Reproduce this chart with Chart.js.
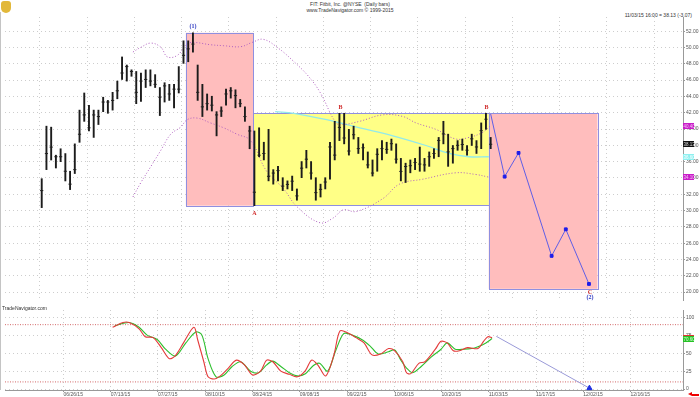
<!DOCTYPE html>
<html><head><meta charset="utf-8">
<script src="https://cdn.jsdelivr.net/npm/chart.js@4.4.0/dist/chart.umd.min.js"></script>
<style>
html,body{margin:0;padding:0;background:#fff;width:700px;height:397px;overflow:hidden;font-family:"Liberation Sans",Arial,sans-serif;}
#c1{position:absolute;left:0;top:12px;}
#c2{position:absolute;left:0;top:305px;}
.t{position:absolute;font-size:5px;line-height:6px;color:#333;white-space:nowrap}
#edge{position:absolute;left:0;top:12px;width:1px;height:378px;background:#c4c4c4}
#logo{position:absolute;left:1px;top:1px;width:10px;height:12px;background:#e2b83a;border-radius:3px 3px 5px 5px}
#arr{position:absolute;left:688px;top:392px;width:0;height:0;border-right:4px solid #e00;border-top:2.5px solid transparent;border-bottom:2.5px solid transparent}
#arr2{position:absolute;left:692px;top:393.5px;width:7px;height:2px;background:#e00}
</style></head><body>
<div id="logo"></div>
<div class="t" style="left:0;width:700px;text-align:center;top:1px">FIT: Fitbit, Inc. @NYSE &nbsp;(Daily bars)</div>
<div class="t" style="left:0;width:700px;text-align:center;top:7px">www.TradeNavigator.com © 1999-2015</div>
<div class="t" style="right:8px;top:12px">11/03/15 16:00 = 38.13 (-3.07)</div>
<div id="edge"></div>
<canvas id="c1" width="700" height="293"></canvas>
<canvas id="c2" width="700" height="92"></canvas>
<div class="t" style="left:2px;top:305px">TradeNavigator.com</div>
<div id="arr"></div><div id="arr2"></div>
<script>
// ---------- DATA ----------
const dateTickLabels = ['06/26/15','07/13/15','07/27/15','08/10/15','08/24/15','09/08/15','09/22/15','10/06/15','10/20/15','11/03/15','11/17/15','12/02/15','12/16/15'];
const dateTickIdx = [4.6,14.6,24.6,34.6,44.6,54.6,64.6,74.6,84.6,94.6,104.6,114.6,124.6];
const priceTicks = [20,22,24,26,28,30,32,34,36,38,40,42,44,46,48,50,52];
const oscTicks = [0,25,50,75,100];

const highs = [33.91,40.35,40.23,36.79,37.58,36.99,34.82,38.18,42.32,44.42,
42.92,42.32,42.32,43.90,43.51,44.50,45.88,48.84,47.85,47.26,
47.06,46.87,47.26,47.26,46.67,45.09,45.68,45.48,45.48,47.66,
50.82,50.82,51.80,47.85,45.48,44.30,44.02,42.13,42.72,44.89,
45.09,44.81,43.63,42.72,40.35,39.76,40.15,38.38,39.96,35.02,
35.42,34.03,33.64,34.23,32.65,36.01,37.39,36.01,34.03,33.24,
34.03,38.38,40.95,41.93,41.93,39.96,40.35,38.97,38.18,37.19,
36.21,37.59,38.58,38.38,38.77,38.18,36.40,35.81,36.21,36.40,
37.79,36.40,37.19,37.59,38.97,40.95,39.37,37.98,38.58,38.77,
37.98,39.37,38.58,40.75,41.93,38.97];
const lows = [30.36,35.02,36.20,35.22,36.00,33.63,32.57,34.54,38.37,40.94,
39.76,38.97,40.55,42.13,41.93,42.32,43.71,46.08,45.88,46.47,
43.11,43.39,45.09,45.29,45.09,41.65,43.31,43.51,42.60,44.42,
48.05,48.25,49.43,43.51,41.53,42.32,42.21,39.16,41.53,42.92,
43.79,42.60,42.72,40.94,37.58,30.60,36.60,36.21,33.64,33.24,
33.64,32.45,32.65,32.45,31.27,34.03,35.22,33.84,31.27,31.66,
32.65,33.84,36.21,38.58,38.18,36.80,38.77,37.00,36.21,35.22,
34.23,34.82,36.21,37.00,37.39,35.81,33.64,33.44,34.63,35.02,
34.82,34.82,35.42,36.40,36.60,38.18,35.42,35.81,37.39,37.39,
36.80,37.98,37.00,37.59,39.96,37.59];
const closes = [32.45,36.99,37.78,36.60,36.60,34.82,33.24,35.02,39.36,41.73,
40.15,41.73,41.53,43.31,43.31,43.51,44.69,46.87,47.66,47.06,
44.50,45.88,46.08,45.88,45.48,43.90,45.29,44.30,44.89,44.89,
49.04,49.83,50.42,44.50,42.72,43.11,42.92,41.73,42.21,44.30,
44.69,44.10,43.11,41.53,39.76,32.25,36.79,37.00,34.20,34.60,
34.90,33.00,33.20,33.60,31.80,35.20,36.30,34.60,32.20,32.60,
33.50,37.80,36.80,40.20,38.90,37.30,39.30,37.60,37.70,35.60,
34.60,36.90,37.60,37.50,38.20,36.30,34.80,35.40,35.50,35.90,
35.70,35.60,36.60,37.00,38.60,39.40,37.20,37.60,38.00,38.10,
37.40,38.80,37.80,39.80,41.20,38.13];

const upperBand = [[19.3,49.44],[21.0,50.03],[23.1,50.54],[25.2,50.03],[26.6,48.85],[28.7,49.04],[30.7,50.42],[32.2,50.62],[35.7,50.34],[38.5,50.22],[42.1,50.10],[44.5,50.62],[46.9,51.00],[50.1,49.90],[53.3,48.30],[56.4,46.50],[58.9,44.50],[62.3,40.75],[63.8,40.55],[67.3,40.95],[72.2,41.74],[76.4,41.54],[79.2,40.75],[83.4,39.96],[87.6,38.78],[90.4,38.97],[93.2,39.56],[95.0,40.40]];
const lowerBand = [[19.3,31.67],[21.0,33.45],[23.1,35.41],[25.2,37.39],[27.3,39.37],[29.4,40.23],[30.8,41.15],[32.9,41.34],[35.7,40.75],[38.5,40.15],[41.3,39.37],[44.2,38.58],[47.6,34.82],[51.2,32.65],[54.0,30.48],[58.9,28.50],[61.7,29.10],[63.8,30.08],[66.6,29.89],[72.2,31.47],[75.7,33.24],[80.6,33.84],[87.6,34.63],[91.8,34.43],[94.6,34.10]];
const longMA = [[49.4,42.13],[53.3,41.93],[60.3,41.15],[67.3,40.15],[74.3,39.17],[81.3,37.98],[86.2,37.00],[90.4,36.60],[94.6,36.60]];

const projX = [95.0,97.96,100.9,107.9,110.9,115.8];
const projY = [41.85,34.16,37.07,24.44,27.70,21.00];

// boxes: [left idx, right idx, top price, bottom price]
const boxLeft = [30.5,44.75,94.6];
const boxRight = [44.75,94.6,117.6];
const boxTop = [51.80,41.93,41.93];
const boxBottom = [30.60,30.60,20.40];

const markText = ['(1)','A','B','B','C','(2)'];
const markX = [32,45,63.2,94.1,116,116];
const markY = [52.55,29.65,42.6,42.6,20.0,19.35];

const fastK = [[15.0,86.4],[17.2,93.0],[18.5,93.0],[20.6,84.2],[21.9,73.2],[23.6,71.9],[25.3,57.9],[27.0,42.5],[28.3,46.9],[30.0,64.5],[32.2,86.4],[33.0,68.9],[34.3,38.2],[35.2,17.1],[36.5,14.0],[37.8,18.4],[39.5,29.4],[41.2,40.4],[42.9,33.8],[44.6,19.7],[46.3,25.0],[47.6,40.4],[48.9,38.2],[50.6,25.0],[52.4,20.6],[54.1,17.1],[55.8,25.9],[57.1,40.4],[58.4,33.8],[60.1,18.4],[61.8,46.9],[63.1,81.1],[64.8,78.5],[66.5,71.9],[68.2,64.5],[69.9,47.8],[71.7,49.1],[73.4,56.6],[74.7,53.5],[76.4,38.2],[77.2,22.8],[78.1,21.5],[79.8,36.0],[81.1,38.2],[83.3,55.7],[84.5,66.7],[85.8,64.5],[87.1,53.5],[88.4,53.5],[90.1,57.9],[92.3,56.6],[93.5,66.7],[94.4,73.2],[95.3,71.9]];
const slowD = [[15.45,88.6],[18.5,93.0],[20.6,86.4],[22.3,75.4],[24.5,68.9],[26.2,55.7],[28.3,46.1],[30.5,64.5],[32.6,79.8],[33.9,75.4],[35.2,42.5],[36.9,17.1],[38.6,19.7],[40.3,31.6],[42.1,38.2],[44.2,25.0],[45.9,22.8],[47.6,33.8],[48.9,39.0],[50.6,31.6],[52.4,22.8],[54.1,18.4],[55.8,21.5],[57.5,32.9],[58.8,36.0],[60.5,25.0],[62.2,53.5],[63.9,77.6],[65.7,75.4],[67.8,68.9],[69.5,60.1],[71.2,49.1],[73.4,52.2],[74.7,54.8],[76.0,40.4],[77.2,29.4],[78.5,22.8],[80.3,31.6],[82.4,44.7],[84.5,55.7],[85.8,64.5],[87.5,55.7],[89.3,55.7],[91.0,56.6],[92.3,59.2],[94.0,64.5],[95.3,70.6]];
const oscProjX = [96.2,115.9];
const oscProjY = [73.7,1.3];
const oscLevels = [90,10];

// ---------- CHART SETUP ----------
const X_MIN = -7.77, X_MAX = 135.7;
const FONT = 'Liberation Sans';
const pts = a => a.map(p => ({x:p[0], y:p[1]}));
const xy = (xs, ys) => xs.map((v,i) => ({x:v, y:ys[i]}));

function tag(ctx, x, y, bg, fg, txt){
  ctx.fillStyle = bg; ctx.fillRect(x, Math.round(y)-3, 11, 6);
  ctx.fillStyle = fg; ctx.font = '4.5px '+FONT; ctx.textAlign='left'; ctx.textBaseline='middle';
  ctx.fillText(txt, x+0.6, Math.round(y)+0.3);
}

const boxFills = ['#ffbdbd','#ffff86','#ffbdbd'];
const annot = {
  id:'annot',
  beforeDatasetsDraw(chart){
    const {ctx, scales:{x, y}} = chart;
    ctx.save();
    for (let i=0;i<boxLeft.length;i++){
      const l = x.getPixelForValue(boxLeft[i]), r = x.getPixelForValue(boxRight[i]);
      const t = y.getPixelForValue(boxTop[i]), b = y.getPixelForValue(boxBottom[i]);
      ctx.fillStyle = boxFills[i];
      ctx.fillRect(l, t, r-l, b-t);
    }
    ctx.strokeStyle = '#8f8fe0'; ctx.lineWidth = 1;
    for (let i=0;i<boxLeft.length;i++){
      const l = x.getPixelForValue(boxLeft[i]), r = x.getPixelForValue(boxRight[i]);
      const t = y.getPixelForValue(boxTop[i]), b = y.getPixelForValue(boxBottom[i]);
      ctx.strokeRect(Math.round(l)+0.5, Math.round(t)+0.5, Math.round(r-l), Math.round(b-t));
    }
    ctx.restore();
  },
  afterDatasetsDraw(chart){
    const {ctx, scales:{x, y}} = chart;
    ctx.save();
    ctx.font = 'bold 6px "Liberation Serif"'; ctx.textAlign='center'; ctx.textBaseline='middle';
    markText.forEach((t,i)=>{
      ctx.fillStyle = t.startsWith('(') ? '#2a35c0' : '#d02a2a';
      ctx.fillText(t, x.getPixelForValue(markX[i]), y.getPixelForValue(markY[i]));
    });
    ctx.restore();
  },
  afterDraw(chart){
    const {ctx, scales:{y}, chartArea} = chart;
    const xr = chartArea.right;
    ctx.save();
    const up = upperBand[upperBand.length-1][1], lo = lowerBand[lowerBand.length-1][1], ma = longMA[longMA.length-1][1], cl = closes[closes.length-1];
    tag(ctx, xr, y.getPixelForValue(up), '#c81ec8', '#f4c0f4', up.toFixed(2));
    tag(ctx, xr, y.getPixelForValue(cl), '#111', '#ddd', cl.toFixed(2));
    tag(ctx, xr, y.getPixelForValue(ma), '#8ff0f0', '#ffffff', ma.toFixed(2));
    tag(ctx, xr, y.getPixelForValue(lo), '#c81ec8', '#f4c0f4', lo.toFixed(2));
    ctx.restore();
  }
};

const gridCol = '#cdcdcd';
new Chart(document.getElementById('c1'), {
  type:'bar',
  data:{datasets:[
    {type:'line', data:xy(projX, projY), borderColor:'#5f5fe6', borderWidth:1, pointStyle:'rect',
     pointRadius:projX.map((v,i)=> i===0 ? 0 : 2), pointBackgroundColor:'#1d1dea', pointBorderColor:'#1d1dea', tension:0, clip:false},
    {type:'scatter', data:closes.map((c,i)=>({x:i, y:c})), pointStyle:'line', pointRadius:1.6, borderColor:'#222', borderWidth:1, showLine:false},
    {type:'bar', data:highs.map((h,i)=>({x:i, y:[lows[i], h]})), backgroundColor:'#1c1c1c', barThickness:1.25, borderWidth:0},
    {type:'line', data:pts(upperBand), borderColor:'#b060c0', borderWidth:1, borderDash:[1,2], pointRadius:0, tension:0.4},
    {type:'line', data:pts(lowerBand), borderColor:'#b060c0', borderWidth:1, borderDash:[1,2], pointRadius:0, tension:0.4},
    {type:'line', data:pts(longMA), borderColor:'#93eaea', borderWidth:1.3, pointRadius:0, tension:0.4}
  ]},
  options:{
    responsive:false, animation:false, devicePixelRatio:1,
    layout:{padding:0},
    plugins:{legend:{display:false}, tooltip:{enabled:false}},
    scales:{
      x:{type:'linear', min:X_MIN, max:X_MAX, offset:false,
        afterBuildTicks:s=>{ s.ticks = dateTickIdx.map(v=>({value:v})); },
        afterFit:s=>{ s.height = 0; },
        ticks:{display:false},
        grid:{color:gridCol, drawTicks:false, lineWidth:1},
        border:{display:false, dash:[1,3]}},
      y:{type:'linear', position:'right', min:19.03, max:53.74,
        afterBuildTicks:s=>{ s.ticks = priceTicks.map(v=>({value:v})); },
        afterFit:s=>{ s.width = 17; },
        ticks:{font:{size:5, family:FONT}, color:'#555', padding:1, autoSkip:false, callback:v=>Number(v).toFixed(2)},
        grid:{color:gridCol, tickLength:2, tickColor:'#999', lineWidth:1},
        border:{display:true, color:'#999', width:1, dash:[1,3]}}
    }
  },
  plugins:[annot]
});

const oscTags = {
  id:'oscTags',
  afterDraw(chart){
    const {ctx, scales:{y}, chartArea} = chart;
    ctx.save();
    const r = fastK[fastK.length-1][1], g = slowD[slowD.length-1][1];
    tag(ctx, chartArea.right, y.getPixelForValue(r), '#e23232', '#fff', r.toFixed(2));
    tag(ctx, chartArea.right, y.getPixelForValue(g), '#26c226', '#dfffdf', g.toFixed(2));
    ctx.restore();
  }
};

new Chart(document.getElementById('c2'), {
  type:'line',
  data:{datasets:[
    {data:xy(oscProjX, oscProjY), borderColor:'#9a9ad8', borderWidth:1, pointStyle:'triangle',
     pointRadius:[0,3], pointBackgroundColor:'#1f2fe0', pointBorderColor:'#1f2fe0', clip:false},
    {data:pts(fastK), borderColor:'#e43a3a', borderWidth:1.1, pointRadius:0, tension:0.3},
    {data:pts(slowD), borderColor:'#2cbf2c', borderWidth:1.1, pointRadius:0, tension:0.3},
    {data:[{x:X_MIN,y:oscLevels[0]},{x:X_MAX,y:oscLevels[0]}], borderColor:'#d46a6a', borderWidth:1, borderDash:[1,1.5], pointRadius:0},
    {data:[{x:X_MIN,y:oscLevels[1]},{x:X_MAX,y:oscLevels[1]}], borderColor:'#d46a6a', borderWidth:1, borderDash:[1,1.5], pointRadius:0}
  ]},
  options:{
    responsive:false, animation:false, devicePixelRatio:1,
    layout:{padding:0},
    plugins:{legend:{display:false}, tooltip:{enabled:false}},
    scales:{
      x:{type:'linear', min:X_MIN, max:X_MAX, offset:false,
        afterBuildTicks:s=>{ s.ticks = dateTickIdx.map(v=>({value:v})); },
        afterFit:s=>{ s.height = 7; },
        ticks:{font:{size:5, family:FONT}, color:'#555', padding:0, align:'start', autoSkip:false, maxRotation:0,
          callback:(v,i)=>dateTickLabels[i]},
        grid:{color:gridCol, tickLength:2, tickColor:'#999', lineWidth:1},
        border:{display:true, color:'#999', width:1, dash:[1,3]}},
      y:{type:'linear', position:'right', min:-1.3, max:110.5,
        afterBuildTicks:s=>{ s.ticks = oscTicks.map(v=>({value:v})); },
        afterFit:s=>{ s.width = 17; },
        ticks:{font:{size:5, family:FONT}, color:'#555', padding:1, autoSkip:false, callback:v=>String(v)},
        grid:{color:gridCol, tickLength:2, tickColor:'#999', lineWidth:1},
        border:{display:true, color:'#999', width:1, dash:[1,3]}}
    }
  },
  plugins:[oscTags]
});
</script>
</body></html>
